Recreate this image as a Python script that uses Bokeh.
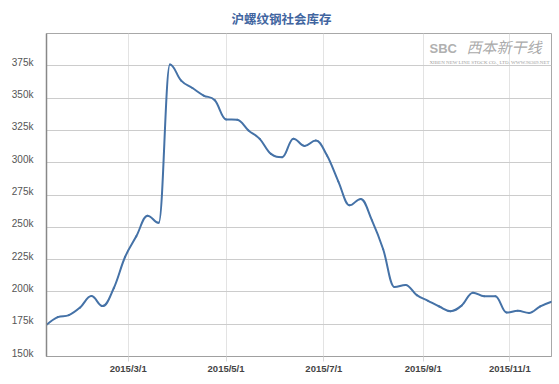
import numpy as np
from datetime import date
from bokeh.plotting import figure
from bokeh.models import (Range1d, FixedTicker, NumeralTickFormatter,
                          CustomJSTickFormatter, Label, LinearAxis, Title)
from bokeh.embed import file_html
from bokeh.resources import INLINE

# ---- data (weekly, 2015; the National Day week is missing) ----
dates = [
    "2015-01-09", "2015-01-16", "2015-01-23", "2015-01-30", "2015-02-06",
    "2015-02-13", "2015-02-20", "2015-02-27", "2015-03-06", "2015-03-13",
    "2015-03-20", "2015-03-27", "2015-04-03", "2015-04-10", "2015-04-17",
    "2015-04-24", "2015-05-01", "2015-05-08", "2015-05-15", "2015-05-22",
    "2015-05-29", "2015-06-05", "2015-06-12", "2015-06-19", "2015-06-26",
    "2015-07-03", "2015-07-10", "2015-07-17", "2015-07-24", "2015-07-31",
    "2015-08-07", "2015-08-14", "2015-08-21", "2015-08-28", "2015-09-04",
    "2015-09-11", "2015-09-18", "2015-09-25", "2015-10-09", "2015-10-16",
    "2015-10-23", "2015-10-30", "2015-11-06", "2015-11-13", "2015-11-20",
    "2015-11-27",
]
stock = [
    174500, 180500, 182000, 188000, 196800, 189000, 203000, 227000, 243000, 259000,
    253500, 376000, 363500, 357800, 352000, 348300, 333500, 333200, 325000, 318400,
    306800, 304300, 318600, 313000, 317200, 305500, 285600, 267000, 272000, 255400,
    233000, 203800, 205400, 197500, 193100, 188700, 185100, 189500, 199400, 196600,
    196600, 184000, 185400, 183700, 188800, 192400,
]
tick_dates = ["2015-03-01", "2015-05-01", "2015-07-01", "2015-09-01", "2015-11-01"]
tick_labels = ["2015/3/1", "2015/5/1", "2015/7/1", "2015/9/1", "2015/11/1"]
y_ticks = [150000, 175000, 200000, 225000, 250000, 275000, 300000, 325000, 350000, 375000]
title_text = "沪螺纹钢社会库存"

# ordinal x positions (points evenly spaced, ticks interpolated between points)
idx = np.arange(len(dates), dtype=float)
ords = np.array([date.fromisoformat(d).toordinal() for d in dates], dtype=float)
tick_pos = [float(v) for v in np.interp([date.fromisoformat(d).toordinal() for d in tick_dates], ords, idx)]

# ---- spline control points (Highcharts-like smoothing) ----
ys = np.array(stock, dtype=float)
n = len(ys)
rcx = idx.copy(); rcy = ys.copy()
lcx = idx.copy(); lcy = ys.copy()
s = 1.5; den = s + 1
for i in range(1, n - 1):
    px, py = idx[i], ys[i]
    lx, ly = idx[i - 1], ys[i - 1]
    nx, ny = idx[i + 1], ys[i + 1]
    lX = (s * px + lx) / den; lY = (s * py + ly) / den
    rX = (s * px + nx) / den; rY = (s * py + ny) / den
    corr = ((rY - lY) * (rX - px)) / (rX - lX) + py - rY
    lY += corr; rY += corr
    if lY > ly and lY > py:
        lY = max(ly, py); rY = 2 * py - lY
    elif lY < ly and lY < py:
        lY = min(ly, py); rY = 2 * py - lY
    if rY > ny and rY > py:
        rY = max(ny, py); lY = 2 * py - rY
    elif rY < ny and rY < py:
        rY = min(ny, py); lY = 2 * py - rY
    lcx[i], lcy[i], rcx[i], rcy[i] = lX, lY, rX, rY

Y0, Y1 = 150000, 400000
p = figure(width=559, height=384, output_backend="svg", toolbar_location=None,
           x_range=Range1d(0, n - 1), y_range=Range1d(Y0, Y1),
           min_border_left=46, min_border_right=8, min_border_top=33,
           min_border_bottom=28, background_fill_color="white",
           border_fill_color="white", y_axis_location=None)

# title, centred on the whole chart
p.add_layout(Title(text=title_text, align="left", offset=185, standoff=12,
                   text_line_height=0.7,
                   text_font="Noto Sans CJK SC", text_font_size="12.5px",
                   text_font_style="bold", text_color="#41659f"), "above")

p.bezier(x0=idx[:-1], y0=ys[:-1], x1=idx[1:], y1=ys[1:],
         cx0=rcx[:-1], cy0=rcy[:-1], cx1=lcx[1:], cy1=lcy[1:],
         line_color="#4572A7", line_width=2, line_cap="round")

# x axis
p.xaxis.ticker = FixedTicker(ticks=tick_pos)
p.xaxis.formatter = CustomJSTickFormatter(args=dict(pos=tick_pos, lab=tick_labels), code="""
for (let i = 0; i < pos.length; i++) { if (Math.abs(pos[i] - tick) < 1e-6) return lab[i]; }
return '';
""")
p.xaxis.major_label_text_font = "Liberation Sans"
p.xaxis.major_label_text_font_size = "9.5px"
p.xaxis.major_label_text_font_style = "bold"
p.xaxis.major_label_text_color = "#444444"
p.xaxis.major_tick_line_color = "#d8d8d8"
p.xaxis.major_tick_out = 5
p.xaxis.major_tick_in = 0
p.xaxis.minor_tick_line_color = None
p.xaxis.axis_line_color = "#a0a0a0"
p.xaxis.major_label_standoff = 1

# y axis: labels sit a few pixels above their grid lines (as in the reference)
shift = 3.5 * (Y1 - Y0) / 323.0
p.extra_y_ranges = {"lab": Range1d(Y0 - shift, Y1 - shift)}
yax = LinearAxis(y_range_name="lab", ticker=FixedTicker(ticks=y_ticks),
                 formatter=NumeralTickFormatter(format="0a"))
yax.major_label_text_font = "Liberation Sans"
yax.major_label_text_font_size = "10px"
yax.major_label_text_color = "#555555"
yax.major_tick_line_color = None
yax.minor_tick_line_color = None
yax.axis_line_color = "#888888"
yax.axis_line_width = 1.5
yax.major_label_standoff = 7
p.add_layout(yax, "left")

p.xgrid.ticker = FixedTicker(ticks=tick_pos)
p.xgrid.grid_line_color = "#e3e3e3"
p.ygrid.ticker = FixedTicker(ticks=y_ticks)
p.ygrid.grid_line_color = "#cccccc"
p.outline_line_color = "#a8a8a8"

# watermark
p.add_layout(Label(x=383, y=301, x_units="screen", y_units="screen",
                   text="SBC", text_font="Liberation Sans",
                   text_font_size="13px", text_font_style="bold",
                   text_color="#b0b0b0"))
p.add_layout(Label(x=420, y=300, x_units="screen", y_units="screen",
                   text="西本新干线", text_font="Noto Sans CJK SC",
                   text_font_size="15px", text_font_style="italic",
                   text_color="#a0a0a0", text_alpha=0.9))
p.add_layout(Label(x=383, y=292, x_units="screen", y_units="screen",
                   text="XIBEN NEW LINE STOCK CO., LTD.    WWW.96369.NET",
                   text_font="Liberation Serif", text_font_size="5px",
                   text_color="#a0a0a0"))

open("out.html", "w").write(file_html(p, INLINE))
